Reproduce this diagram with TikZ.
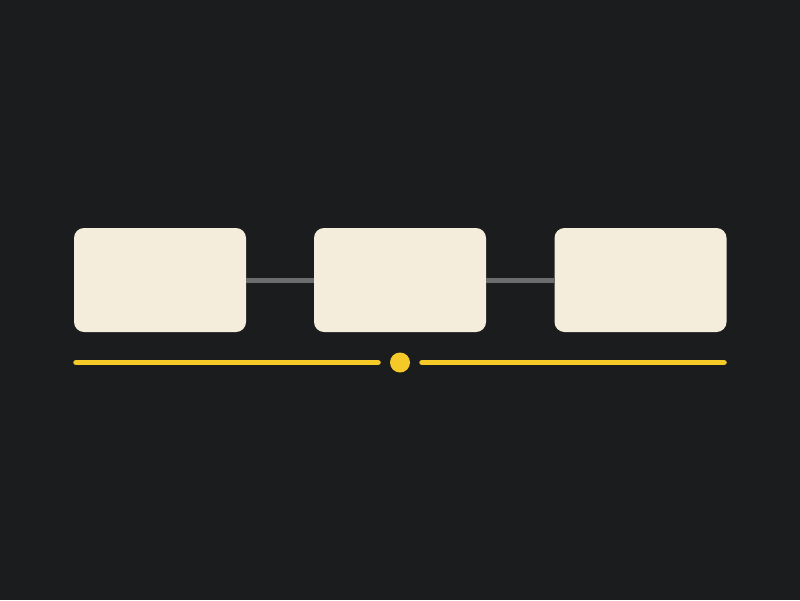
\documentclass[tikz,border=0pt]{standalone}
\definecolor{bg}{HTML}{1B1C1E}
\definecolor{card}{HTML}{F5EDDC}
\definecolor{link}{HTML}{6B6C6C}
\definecolor{accent}{HTML}{F5C927}
\tikzset{
  cardbox/.style={fill=card, draw=none, rounded corners=10pt, minimum width=172pt, minimum height=104pt, inner sep=0pt},
  linkline/.style={draw=link, line width=5pt},
  accentline/.style={draw=accent, line width=5.5pt, line cap=round},
}
\begin{document}
\begin{tikzpicture}[x=1pt,y=-1pt]
\fill[bg] (0,0) rectangle (800,600);
\useasboundingbox (0,0) rectangle (800,600);
\node[cardbox] (b1) at (160,280) {};
\node[cardbox] (b2) at (400,280) {};
\node[cardbox] (b3) at (640.5,280) {};
\draw[linkline] (b1.east) -- (b2.west);
\draw[linkline] (b2.east) -- (b3.west);
\coordinate (l1) at (76,362.5);
\coordinate (l2) at (378,362.5);
\coordinate (r1) at (422,362.5);
\coordinate (r2) at (724,362.5);
\node[circle, fill=accent, minimum size=20pt, inner sep=0pt] (dot) at (400,362.5) {};
\draw[accentline] (l1) -- (l2);
\draw[accentline] (r1) -- (r2);
\end{tikzpicture}
\end{document}
